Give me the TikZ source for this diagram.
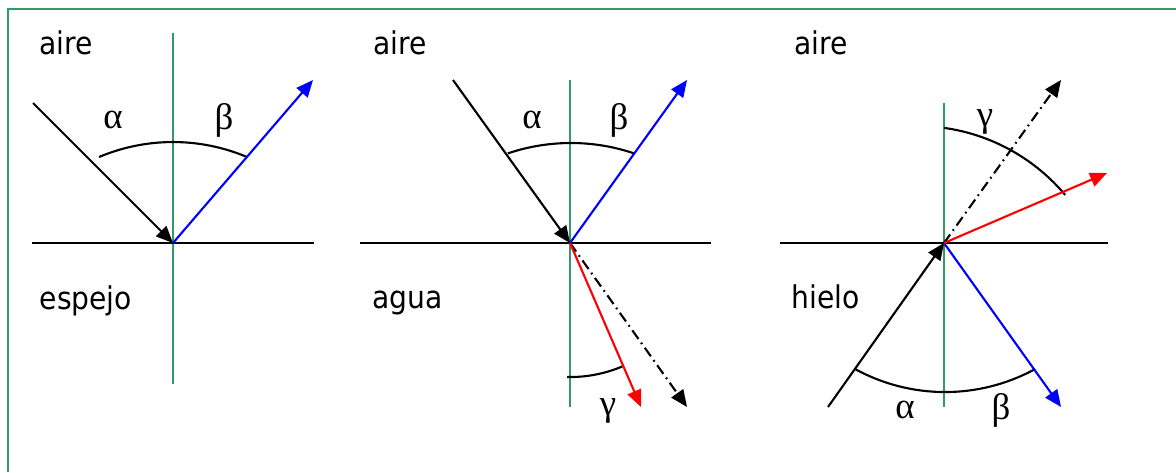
\documentclass[tikz,border=0pt]{standalone}
\usepackage{fontspec}
\newfontfamily\labfont{DejaVu Sans Condensed}
\newfontfamily\grkfont{Liberation Serif}
\usetikzlibrary{arrows.meta}
\definecolor{seagreen}{RGB}{51,153,102}
\tikzset{
  normalline/.style={draw=seagreen, line width=0.65pt},
  surface/.style={draw=black, line width=0.6pt},
  ray/.style={line width=0.6pt, -{Triangle[length=4.8pt,width=4.1pt]}},
  dashdotray/.style={ray, dash pattern=on 3pt off 1.3pt on 0.5pt off 1.3pt},
  anglearc/.style={draw=black, line width=0.6pt},
  medium/.style={font=\labfont\fontsize{8.9}{10}\selectfont, anchor=base west, inner sep=0pt},
  greek/.style={font=\grkfont\fontsize{10.5}{12}\selectfont, inner sep=0pt},
}
\begin{document}
\begin{tikzpicture}[x=0.01cm, y=0.01cm]
\useasboundingbox (0,0) rectangle (1176,472);
% frame (only top and left edges visible)
\coordinate (FL) at (8,0);
\coordinate (FC) at (8,463);
\coordinate (FR) at (1176,463);
\draw[draw=seagreen, line width=0.65pt] (FL) -- (FC) -- (FR);

% ---------- panel 1: mirror ----------
\coordinate (O1) at (173,229);
\coordinate (N1t) at (173,439);
\coordinate (N1b) at (173,88);
\coordinate (S1l) at (32,229);
\coordinate (S1r) at (314,229);
\coordinate (I1) at (33,369);
\coordinate (R1) at (313,392);
\coordinate (A1) at (99.1,315);
\draw[normalline] (N1t) -- (N1b);
\draw[surface] (S1l) -- (S1r);
\draw[anglearc] (A1) arc[start angle=112.9, end angle=67.1, radius=190];
\draw[ray, black] (I1) -- (O1);
\draw[ray, blue] (O1) -- (R1);
\node[medium] (air1) at (39,417.5) {aire};
\node[medium] (med1) at (39,163) {espejo};
\node[greek] (al1) at (113,352) {α};
\node[greek] (be1) at (224,352) {β};

% ---------- panel 2: water ----------
\coordinate (O2) at (570,229);
\coordinate (N2t) at (570,392);
\coordinate (N2b) at (570,65);
\coordinate (S2l) at (360,229);
\coordinate (S2r) at (711,229);
\coordinate (I2) at (453,392);
\coordinate (R2) at (687,392);
\coordinate (T2) at (641,65);
\coordinate (D2) at (687,65);
\coordinate (A2) at (507.8,318.6);
\coordinate (G2) at (567,95);
\draw[normalline] (N2t) -- (N2b);
\draw[surface] (S2l) -- (S2r);
\draw[anglearc] (A2) arc[start angle=108.7, end angle=71.1, radius=197];
\draw[anglearc] (G2) arc[start angle=-91.3, end angle=-67, radius=134];
\draw[ray, black] (I2) -- (O2);
\draw[ray, blue] (O2) -- (R2);
\draw[dashdotray, black] (O2) -- (D2);
\draw[ray, red] (O2) -- (T2);
\node[medium] (air2) at (373,417.5) {aire};
\node[medium] (med2) at (372,164) {agua};
\node[greek] (al2) at (532,352) {α};
\node[greek] (be2) at (619,352) {β};
\node[greek] (ga2) at (608,61) {γ};

% ---------- panel 3: ice ----------
\coordinate (O3) at (944,229);
\coordinate (N3t) at (944,369);
\coordinate (N3b) at (944,65);
\coordinate (S3l) at (780,229);
\coordinate (S3r) at (1108,229);
\coordinate (I3) at (828,65);
\coordinate (R3) at (1061,65);
\coordinate (T3) at (1107,299);
\coordinate (D3) at (1061,392);
\coordinate (A3u) at (944.2,344.1);
\coordinate (A3l) at (855,103);
\draw[normalline] (N3t) -- (N3b);
\draw[surface] (S3l) -- (S3r);
\draw[anglearc] (A3u) arc[start angle=82, end angle=40, radius=193];
\draw[anglearc] (A3l) arc[start angle=241.3, end angle=298.7, radius=187.6];
\draw[ray, black] (I3) -- (O3);
\draw[ray, blue] (O3) -- (R3);
\draw[dashdotray, black] (O3) -- (D3);
\draw[ray, red] (O3) -- (T3);
\node[medium] (air3) at (794,417.5) {aire};
\node[medium] (med3) at (791,164) {hielo};
\node[greek] (ga3) at (985,350) {γ};
\node[greek] (al3) at (905,62) {α};
\node[greek] (be3) at (1001,62) {β};
\end{tikzpicture}
\end{document}
